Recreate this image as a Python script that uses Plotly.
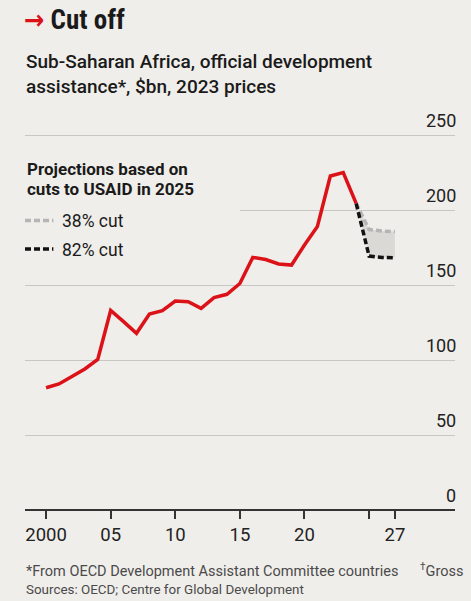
import plotly.graph_objects as go

# Official development assistance to sub-Saharan Africa, $bn (2023 prices)
years = list(range(2000, 2025))
oda = [81.5, 84, 89, 94, 100.4, 133, 125.6, 117.8, 130.7, 132.9,
       139.3, 138.9, 134.4, 141.6, 143.8, 151, 168.4, 167, 164, 163.3,
       176.7, 189, 222.7, 224.9, 204.4]

# Projections after cuts to USAID in 2025
proj_years = [2024, 2025, 2026, 2027]
cut38 = [204.4, 187, 186, 185.6]
cut82 = [204.4, 169.3, 168.4, 168.2]

y_ticks = [0, 50, 100, 150, 200, 250]
x_ticks = [2000, 2005, 2010, 2015, 2020, 2027]
x_labels = ["2000", "05", "10", "15", "20", "27"]
x_minor_ticks = [2025]

RED = "#dc1219"
BG = "#f0eeea"
TXT = "#1a1a1a"
FONT = "Liberation Sans Narrow, Roboto Condensed, DejaVu Sans Condensed, Roboto, sans-serif"
FONT_REG = "Roboto, Liberation Sans, sans-serif"

fig = go.Figure()

# shaded band between the two projections
fig.add_trace(go.Scatter(x=proj_years, y=cut82, mode="lines",
                         line=dict(width=0), hoverinfo="skip", showlegend=False))
fig.add_trace(go.Scatter(x=proj_years, y=cut38, mode="lines", fill="tonexty",
                         fillcolor="#dad9d6", line=dict(width=0),
                         hoverinfo="skip", showlegend=False))
fig.add_trace(go.Scatter(x=proj_years, y=cut38, mode="lines",
                         line=dict(color="#b5b5b5", width=3.5, dash="6px,3px"),
                         showlegend=False))
fig.add_trace(go.Scatter(x=proj_years, y=cut82, mode="lines",
                         line=dict(color="#111111", width=3.5, dash="6px,3px"),
                         showlegend=False))
fig.add_trace(go.Scatter(x=years, y=oda, mode="lines",
                         line=dict(color=RED, width=3.5), showlegend=False))

# paper-coloured panel behind the legend text, hiding part of the grid
fig.add_shape(type="rect", xref="x", yref="y", x0=1998, x1=2015, y0=180, y1=240,
              fillcolor=BG, line=dict(width=0), layer="between")

# y tick labels sit above their gridlines, right aligned
for v in y_ticks:
    fig.add_annotation(x=1, xref="paper", y=v, yref="y", text=str(v),
                       xanchor="right", yanchor="bottom", yshift=2, xshift=3,
                       showarrow=False,
                       font=dict(family=FONT_REG, size=18, color="#222"))

annos = [
    dict(x=-0.003, y=1.149, text="Sub-Saharan Africa, official development", size=19,
         family=FONT_REG, weight=500),
    dict(x=-0.003, y=1.085, text="assistance*, $bn, 2023 prices", size=19,
         family=FONT_REG, weight=500),
    dict(x=0, y=0.874, text="<b>Projections based on</b>", size=17, family=FONT_REG),
    dict(x=0, y=0.822, text="<b>cuts to USAID in 2025</b>", size=17, family=FONT_REG),
    dict(x=0.081, y=0.74, text="38% cut", size=17.5, family=FONT_REG),
    dict(x=0.081, y=0.667, text="82% cut", size=17.5, family=FONT_REG),
    dict(x=-0.003, y=-0.154, text="*From OECD Development Assistant Committee countries"
         "&nbsp;&nbsp;&nbsp;&nbsp;&nbsp;&nbsp;<sup>†</sup>Gross", size=14.5,
         family=FONT_REG, color="#4a4a4a"),
    dict(x=-0.003, y=-0.205, text="Sources: OECD; Centre for Global Development",
         size=13.4, family=FONT_REG, color="#4a4a4a"),
]
for a in annos:
    fig.add_annotation(x=a["x"], y=a["y"], xref="paper", yref="paper", text=a["text"],
                       xanchor="left", yanchor="middle", showarrow=False,
                       font=dict(family=a["family"], size=a["size"],
                                 color=a.get("color", TXT),
                                 weight=a.get("weight", "normal")))

# legend line samples
for yy, col in [(0.742, "#b5b5b5"), (0.669, "#111111")]:
    fig.add_shape(type="line", xref="paper", yref="paper", x0=0.0, x1=0.066,
                  y0=yy, y1=yy, line=dict(color=col, width=3.5, dash="6px,3px"))

fig.update_layout(
    width=471, height=601,
    margin=dict(l=25, r=16, t=120, b=91),
    paper_bgcolor=BG, plot_bgcolor=BG,
    title=dict(text="<b><span style='color:%s'>→</span> Cut off</b>" % RED,
               x=24 / 471, xanchor="left", y=1 - 20 / 601, yanchor="middle",
               xref="container", yref="container",
               font=dict(family=FONT, size=27, color=TXT)),
    xaxis=dict(range=[1998.37, 2031.65], tickvals=x_ticks, ticktext=x_labels,
               ticks="outside", ticklen=8, tickwidth=1.5, tickcolor="#333",
               minor=dict(tickvals=x_minor_ticks, ticks="outside", ticklen=8,
                          tickwidth=1.5, tickcolor="#333", showgrid=False),
               showgrid=False, zeroline=False, showline=False,
               tickfont=dict(family=FONT_REG, size=18.5, color="#222")),
    yaxis=dict(range=[0, 260], tickvals=y_ticks, showticklabels=False,
               showgrid=True, gridcolor="#c9c7c3", gridwidth=1,
               zeroline=True, zerolinecolor="#333", zerolinewidth=1.5),
    showlegend=False,
)

fig.write_html("out.html")
